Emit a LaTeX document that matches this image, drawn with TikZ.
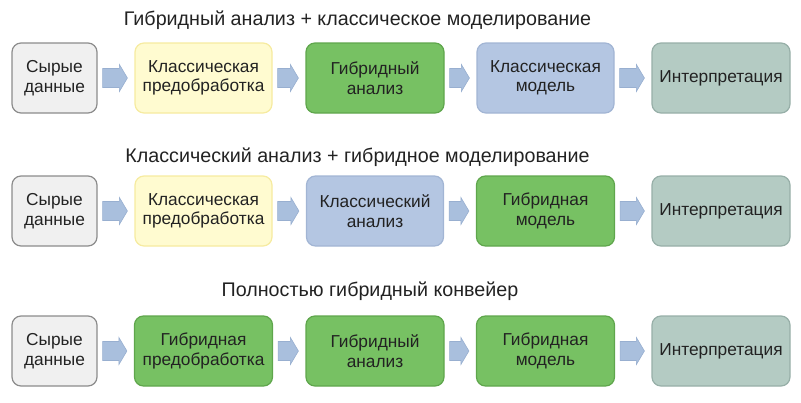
\documentclass[tikz,border=0pt]{standalone}
\usepackage{fontspec}
\setmainfont{Liberation Sans}
\usetikzlibrary{calc}
\definecolor{grayfill}{HTML}{F0F0F0}
\definecolor{grayline}{HTML}{8C8C8C}
\definecolor{yelfill}{HTML}{FFFBD0}
\definecolor{yelline}{HTML}{F6EBA0}
\definecolor{grnfill}{HTML}{77C163}
\definecolor{grnline}{HTML}{5FA64C}
\definecolor{blufill}{HTML}{B4C6E2}
\definecolor{bluline}{HTML}{A2B5D4}
\definecolor{tealfill}{HTML}{B4CBC3}
\definecolor{tealline}{HTML}{97AFA8}
\definecolor{arrfill}{HTML}{A9BFDD}
\definecolor{arrline}{HTML}{98AFD0}
\definecolor{txt}{HTML}{222222}
\tikzset{
  box/.style={draw, line width=1.2pt, rounded corners=9pt, minimum height=70pt,
    align=center, font=\fontsize{17.3}{19.5}\selectfont, text=txt, inner sep=0pt},
  rawbox/.style={box, fill=grayfill, draw=grayline, minimum width=85pt},
  yelbox/.style={box, fill=yelfill, draw=yelline, minimum width=137pt},
  grnbox/.style={box, fill=grnfill, draw=grnline, minimum width=138pt},
  blubox/.style={box, fill=blufill, draw=bluline, minimum width=137pt},
  tealbox/.style={box, fill=tealfill, draw=tealline, minimum width=138pt},
  title/.style={font=\fontsize{19.7}{23}\selectfont, text=txt, inner sep=0pt},
  blockarrow/.style={fill=arrfill, draw=arrline, line width=0.6pt,
    to path={let \p1=(\tikztostart), \p2=(\tikztotarget) in
      (\x1+5pt,\y1+9.5pt) -- (\x2-15pt,\y1+9.5pt) -- (\x2-15pt,\y1+13.5pt)
      -- (\x2-7pt,\y1) -- (\x2-15pt,\y1-13.5pt) -- (\x2-15pt,\y1-9.5pt)
      -- (\x1+5pt,\y1-9.5pt) -- cycle}}
}
\begin{document}
\begin{tikzpicture}[x=1pt,y=-1pt]
\useasboundingbox (0,0) rectangle (801,402);
% row 1
\node[title] (t1) at (357.5,20) {Гибридный анализ + классическое моделирование};
\node[rawbox] (a1) at (54.5,78) {Сырые\\данные};
\node[yelbox] (a2) at (203.5,78) {Классическая\\предобработка};
\node[grnbox] (a3) at (375,78) {Гибридный\\анализ};
\node[blubox] (a4) at (545.5,78) {Классическая\\модель};
\node[tealbox] (a5) at (721,78) {Интерпретация};
% row 2
\node[title] (t2) at (357.5,157) {Классический анализ + гибридное моделирование};
\node[rawbox] (b1) at (54.5,211) {Сырые\\данные};
\node[yelbox] (b2) at (203.5,211) {Классическая\\предобработка};
\node[blubox] (b3) at (375,211) {Классический\\анализ};
\node[grnbox] (b4) at (545.5,211) {Гибридная\\модель};
\node[tealbox] (b5) at (721,211) {Интерпретация};
% row 3
\node[title] (t3) at (370,291) {Полностью гибридный конвейер};
\node[rawbox] (c1) at (54.5,351) {Сырые\\данные};
\node[grnbox] (c2) at (203.5,351) {Гибридная\\предобработка};
\node[grnbox] (c3) at (375,351) {Гибридный\\анализ};
\node[grnbox] (c4) at (545.5,351) {Гибридная\\модель};
\node[tealbox] (c5) at (721,351) {Интерпретация};
% arrows
\foreach \r in {a,b,c}{
  \foreach \i/\j in {1/2,2/3,3/4,4/5}{
    \draw[blockarrow] (\r\i.east) to (\r\j.west);
  }
}
\end{tikzpicture}
\end{document}
